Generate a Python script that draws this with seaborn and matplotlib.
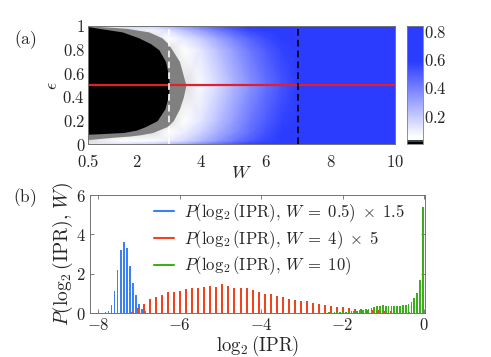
import numpy as np
import pandas as pd
import matplotlib
matplotlib.use('Agg')
import matplotlib.pyplot as plt
from matplotlib.colors import LinearSegmentedColormap
from matplotlib.lines import Line2D
from matplotlib.ticker import FuncFormatter
import seaborn as sns

# ---- panel (a): phase map, W vs epsilon ----
w_cols = [0.5, 1.5, 2.5, 3.0, 3.5, 4.0, 4.5, 5.0, 5.5, 6.0, 6.5, 7.0, 8.0, 10.0]
eps_rows = [0.0, 0.03, 0.1, 0.2, 0.5, 0.8, 0.9, 0.97, 1.0]
ipr_map = [
    [0.12, 0.15, 0.20, 0.25, 0.30, 0.38, 0.45, 0.52, 0.58, 0.62, 0.65, 0.70, 0.75, 0.75],
    [0.03, 0.04, 0.06, 0.10, 0.16, 0.24, 0.33, 0.42, 0.50, 0.56, 0.62, 0.67, 0.72, 0.75],
    [0.03, 0.03, 0.03, 0.05, 0.10, 0.18, 0.27, 0.36, 0.45, 0.53, 0.60, 0.65, 0.72, 0.75],
    [0.03, 0.03, 0.03, 0.03, 0.05, 0.12, 0.22, 0.32, 0.42, 0.50, 0.57, 0.63, 0.70, 0.75],
    [0.03, 0.03, 0.03, 0.03, 0.03, 0.07, 0.15, 0.25, 0.35, 0.44, 0.52, 0.59, 0.70, 0.75],
    [0.03, 0.03, 0.03, 0.03, 0.05, 0.12, 0.22, 0.32, 0.42, 0.50, 0.57, 0.63, 0.70, 0.75],
    [0.03, 0.03, 0.03, 0.05, 0.12, 0.20, 0.30, 0.40, 0.48, 0.55, 0.60, 0.65, 0.72, 0.75],
    [0.03, 0.03, 0.08, 0.15, 0.24, 0.33, 0.42, 0.50, 0.57, 0.62, 0.66, 0.70, 0.74, 0.75],
    [0.08, 0.12, 0.20, 0.27, 0.35, 0.43, 0.50, 0.56, 0.62, 0.66, 0.70, 0.72, 0.75, 0.75],
]

# edges of the black (IPR ~ 0) and grey regions
eps_black = [0.085, 0.09, 0.10, 0.12, 0.15, 0.20, 0.30, 0.40, 0.50, 0.60, 0.70, 0.80, 0.85, 0.90, 0.95, 0.98, 0.995]
w_black = [0.5, 0.9, 1.6, 2.0, 2.28, 2.64, 2.88, 2.98, 3.02, 2.98, 2.90, 2.69, 2.44, 2.07, 1.56, 0.84, 0.5]
eps_grey = [0.04, 0.05, 0.06, 0.07, 0.08, 0.10, 0.15, 0.20, 0.30, 0.40, 0.50, 0.60, 0.70, 0.80, 0.85, 0.90, 0.95, 0.98, 0.995, 1.0]
w_grey = [0.5, 0.9, 1.3, 1.8, 2.1, 2.5, 2.95, 3.14, 3.33, 3.45, 3.53, 3.43, 3.33, 3.10, 2.98, 2.79, 2.38, 1.70, 0.9, 0.5]

# ---- panel (b): histograms of log2(IPR) ----
blue_x = [-7.82, -7.745, -7.67, -7.595, -7.52, -7.445, -7.37, -7.295, -7.22, -7.145, -7.07, -6.995, -6.92, -6.845]
blue_p = [0.04, 0.12, 0.4, 1.12, 2.19, 3.2, 3.63, 3.3, 2.4, 1.55, 0.9, 0.45, 0.22, 0.1]

red_x = [-7.17, -7.02, -6.87, -6.73, -6.58, -6.43, -6.28, -6.13, -5.99, -5.84, -5.69, -5.54,
         -5.39, -5.24, -5.10, -4.95, -4.80, -4.65, -4.50, -4.36, -4.21, -4.06, -3.91, -3.76,
         -3.62, -3.47, -3.32, -3.17, -3.02, -2.88, -2.73, -2.58, -2.43, -2.28, -2.14, -1.99,
         -1.84, -1.69, -1.54, -1.40, -1.25, -1.10, -0.95, -0.80, -0.66, -0.51, -0.36, -0.21]
red_p = [0.07, 0.27, 0.44, 0.69, 0.8, 0.9, 1.05, 1.05, 1.13, 1.2, 1.27, 1.27,
         1.3, 1.39, 1.34, 1.46, 1.39, 1.29, 1.29, 1.29, 1.17, 1.08, 0.97, 0.97,
         0.86, 0.8, 0.73, 0.68, 0.59, 0.59, 0.51, 0.44, 0.39, 0.36, 0.3, 0.3,
         0.25, 0.22, 0.19, 0.17, 0.15, 0.13, 0.11, 0.09, 0.07, 0.05, 0.03, 0.02]

green_x = [-2.62, -2.55, -2.48, -2.41, -2.34, -2.27, -2.20, -2.13, -2.06, -1.99, -1.92, -1.85,
           -1.78, -1.71, -1.64, -1.57, -1.50, -1.43, -1.36, -1.29, -1.22, -1.15, -1.08, -1.01,
           -0.94, -0.87, -0.80, -0.73, -0.66, -0.59, -0.52, -0.45, -0.38, -0.31, -0.24, -0.17,
           -0.10, -0.03]
green_p = [0.01, 0.01, 0.02, 0.02, 0.03, 0.03, 0.04, 0.05, 0.06, 0.06, 0.07, 0.08,
           0.09, 0.1, 0.12, 0.14, 0.16, 0.18, 0.21, 0.25, 0.3, 0.35, 0.38, 0.39,
           0.37, 0.36, 0.35, 0.35, 0.36, 0.37, 0.39, 0.42, 0.47, 0.56, 0.75, 1.0,
           1.68, 5.4]

labels = [r'$P(\log_2(\mathrm{IPR}),\, W\;=\;0.5)\;\times\;1.5$',
          r'$P(\log_2(\mathrm{IPR}),\, W\;=\;4)\;\times\;5$',
          r'$P(\log_2(\mathrm{IPR}),\, W\;=\;10)$']
colors = ['#3a82f2', '#f2431f', '#3cae1c']

sns.set_style('ticks')
plt.rcParams['mathtext.fontset'] = 'cm'
plt.rcParams['font.family'] = ['DejaVu Serif']
plt.rcParams['xtick.direction'] = 'in'
plt.rcParams['ytick.direction'] = 'in'

math_fmt = FuncFormatter(lambda v, p: f'${v:g}$')

fig = plt.figure(figsize=(4.91, 3.57), dpi=100)
W, H = 491, 357
ax1 = fig.add_axes([88 / W, 1 - 144.3 / H, 307 / W, 118.3 / H])
cax = fig.add_axes([407 / W, 1 - 144.3 / H, 16 / W, 118.3 / H])
ax2 = fig.add_axes([90 / W, 1 - 313 / H, 335 / W, 118 / H])

vmax = 0.84
cmap = LinearSegmentedColormap.from_list('ipr', [
    (0.0, 'black'), (0.019, 'black'), (0.02, '#3c4646'), (0.032, '#3c4646'),
    (0.036, 'white'), (0.06, 'white'), (0.70, '#2b3cff'), (1.0, '#2b3cff')])

mesh = ax1.pcolormesh(w_cols, eps_rows, np.array(ipr_map), shading='gouraud',
                      cmap=cmap, vmin=0, vmax=vmax)
ax1.fill_betweenx(eps_grey, 0.5, w_grey, color='#808080', lw=0)
ax1.fill_betweenx(eps_black, 0.5, w_black, color='black', lw=0)
ax1.axhline(0.5, color='#e41e2a', lw=1.6)
ax1.axvline(3, color='white', ls=(0, (4, 2.5)), lw=1.2)
ax1.axvline(7, color='black', ls=(0, (4, 2.5)), lw=1.2)
ax1.set_xlim(0.5, 10)
ax1.set_ylim(0, 1)
ax1.set_xticks([0.5, 2, 4, 6, 8, 10])
ax1.set_yticks([0, 0.2, 0.4, 0.6, 0.8, 1])
ax1.xaxis.set_major_formatter(math_fmt)
ax1.yaxis.set_major_formatter(math_fmt)
ax1.tick_params(top=True, right=True, labelsize=12, length=3, width=0.6,
                color='0.4')
ax1.tick_params(axis='x', pad=7)
ax1.tick_params(axis='y', pad=2)
ax1.set_xlabel(r'$W$', fontsize=13, labelpad=-5)
ax1.set_ylabel(r'$\epsilon$', fontsize=13, labelpad=1)

cb = fig.colorbar(mesh, cax=cax, ticks=[0.2, 0.4, 0.6, 0.8])
cb.ax.yaxis.set_major_formatter(math_fmt)
cb.ax.tick_params(labelsize=12, length=0, pad=1)
cb.outline.set_edgecolor('0.5')
cb.outline.set_linewidth(0.6)

for x, p, c, s in [(blue_x, blue_p, colors[0], 0.5),
                   (red_x, red_p, colors[1], 0.33),
                   (green_x, green_p, colors[2], 0.6)]:
    df = pd.DataFrame({'x': x, 'p': p})
    step = (x[-1] - x[0]) / (len(x) - 1)
    sns.histplot(data=df, x='x', weights='p', binwidth=step,
                 binrange=(x[0] - step / 2, x[-1] + step / 2), shrink=s,
                 color=c, alpha=1, edgecolor='none', linewidth=0, ax=ax2)

ax2.set_xlim(-8.2, 0.025)
ax2.set_ylim(0, 6)
ax2.set_xticks([-8, -6, -4, -2, 0])
ax2.set_yticks([0, 2, 4, 6])
ax2.xaxis.set_major_formatter(math_fmt)
ax2.yaxis.set_major_formatter(math_fmt)
ax2.tick_params(top=True, right=True, labelsize=12, length=3, width=0.6,
                color='0.4', pad=3)
ax2.set_xlabel(r'$\log_2(\mathrm{IPR})$', fontsize=13.5, labelpad=0)
ax2.set_ylabel(r'$P(\log_2(\mathrm{IPR}),\, W)$', fontsize=14, labelpad=1)

for ax in (ax1, ax2):
    for sp in ax.spines.values():
        sp.set_visible(True)
        sp.set_color('0.45')
        sp.set_linewidth(0.7)

handles = [Line2D([], [], color=c, lw=1.5) for c in colors]
ax2.legend(handles, labels, loc='upper left', bbox_to_anchor=(0.19, 0.95),
           frameon=False, fontsize=12, handlelength=1.2, handletextpad=0.6,
           labelspacing=0.25, borderpad=0, borderaxespad=0)

fig.text(25 / W, 1 - 40 / H, r'$\mathrm{(a)}$', fontsize=12.5, ha='center', va='center')
fig.text(25 / W, 1 - 198 / H, r'$\mathrm{(b)}$', fontsize=12.5, ha='center', va='center')

fig.savefig('out.png', dpi=100)
